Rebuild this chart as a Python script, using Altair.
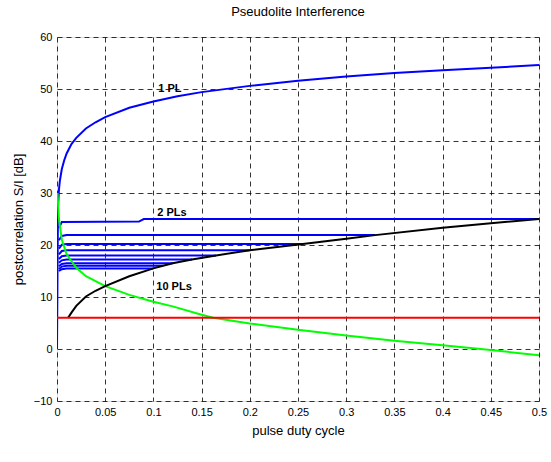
import altair as alt
import pandas as pd

# ---- data ----
# 1 PL curve (blue)
pl1_x = [0.0, 0.001, 0.002, 0.003, 0.005, 0.0075, 0.01, 0.015, 0.02, 0.03, 0.04, 0.05,
         0.075, 0.1, 0.125, 0.15, 0.2, 0.25, 0.3, 0.35, 0.4, 0.45, 0.5]
pl1_y = [0.0, 27.0, 30.6, 32.4, 34.6, 36.3, 37.6, 39.4, 40.6, 42.4, 43.6, 44.6,
         46.4, 47.6, 48.6, 49.4, 50.6, 51.6, 52.4, 53.1, 53.6, 54.1, 54.6]

# N PLs horizontal levels (blue), N = 2..10, and x where each line ends
npl_names = ["2 PLs", "3 PLs", "4 PLs", "5 PLs", "6 PLs", "7 PLs", "8 PLs", "9 PLs", "10 PLs"]
npl_level = [25.0, 21.9, 20.2, 19.0, 18.0, 17.2, 16.5, 16.0, 15.5]
npl_start = [23.3, 20.9, 19.3, 18.2, 17.3, 16.6, 15.9, 15.4, 15.0]
npl_end_x = [0.5, 0.33, 0.255, 0.2, 0.165, 0.14, 0.12, 0.11, 0.1]

# envelope curve (black)
env_x = [0.0115, 0.015, 0.02, 0.03, 0.04, 0.05, 0.075, 0.1, 0.11, 0.12, 0.14, 0.165,
         0.2, 0.255, 0.3, 0.33, 0.4, 0.45, 0.5]
env_y = [6.0, 7.0, 8.3, 10.1, 11.2, 12.1, 14.0, 15.5, 16.0, 16.5, 17.2, 18.0,
         19.0, 20.2, 21.2, 21.9, 23.3, 24.2, 25.0]

# green curve
grn_x = [0.0005, 0.002, 0.005, 0.01, 0.02, 0.03, 0.05, 0.075, 0.1, 0.12, 0.15, 0.162,
         0.2, 0.25, 0.3, 0.35, 0.4, 0.45, 0.5]
grn_y = [30.0, 25.0, 21.0, 18.2, 15.6, 14.0, 12.1, 10.4, 9.1, 8.2, 6.6, 6.0,
         4.9, 3.7, 2.6, 1.6, 0.7, -0.2, -1.2]

# red threshold
red_x = [0.0, 0.5]
red_y = [6.0, 6.0]

# annotations
lbl_text = ["1 PL", "2 PLs", "10 PLs"]
lbl_x = [0.105, 0.104, 0.103]
lbl_y = [50.0, 26.2, 11.9]

x_ticks = [0, 0.05, 0.1, 0.15, 0.2, 0.25, 0.3, 0.35, 0.4, 0.45, 0.5]
y_ticks = [-10, 0, 10, 20, 30, 40, 50, 60]

# ---- tables ----
pl1 = pd.DataFrame({"x": pl1_x, "y": pl1_y, "s": "1 PL"})
rows = []
for name, lev, st, ex in zip(npl_names, npl_level, npl_start, npl_end_x):
    xs = [0.002, 0.005, 0.01, ex]
    ys = [st, lev - 0.15, lev, lev]
    if name == "2 PLs":
        xs = [0.002, 0.005, 0.085, 0.09, ex]
        ys = [st, lev - 0.6, lev - 0.5, lev, lev]
    for a, b in zip(xs, ys):
        rows.append({"x": a, "y": b, "s": name})
npl = pd.DataFrame(rows)
blue = pd.concat([pl1, npl], ignore_index=True)
env = pd.DataFrame({"x": env_x, "y": env_y})
grn = pd.DataFrame({"x": grn_x, "y": grn_y})
red = pd.DataFrame({"x": red_x, "y": red_y})
lbl = pd.DataFrame({"x": lbl_x, "y": lbl_y, "t": lbl_text})

FONT = "Liberation Sans"
W, H = 482, 364

xenc = alt.X("x:Q", scale=alt.Scale(domain=[0, 0.5], nice=False, zero=False),
             axis=alt.Axis(values=x_ticks, format="~g", title="pulse duty cycle",
                           grid=True, gridDash=[5, 4], gridColor="#000000", gridWidth=0.8,
                           ticks=False, domain=False, labelPadding=5, titlePadding=7,
                           labelFontSize=11, titleFontSize=13, labelFont=FONT, titleFont=FONT,
                           labelColor="#000", titleColor="#000", titleFontWeight="normal",
                           labelFlush=False))
yenc = alt.Y("y:Q", scale=alt.Scale(domain=[-10, 60], nice=False, zero=False),
             axis=alt.Axis(values=y_ticks, title="postcorrelation S/I [dB]",
                           grid=True, gridDash=[5, 4], gridColor="#000000", gridWidth=0.8,
                           ticks=False, domain=False, labelPadding=5, titlePadding=8,
                           labelFontSize=11, titleFontSize=13, labelFont=FONT, titleFont=FONT,
                           labelColor="#000", titleColor="#000", titleFontWeight="normal",
                           labelFlush=False))

base_blue = alt.Chart(blue).mark_line(color="#0000FF", strokeWidth=2, clip=True).encode(
    x=xenc, y=yenc, detail="s:N")
l_grn = alt.Chart(grn).mark_line(color="#00FF00", strokeWidth=2, clip=True).encode(x="x:Q", y="y:Q")
l_env = alt.Chart(env).mark_line(color="#000000", strokeWidth=2, clip=True).encode(x="x:Q", y="y:Q")
l_red = alt.Chart(red).mark_line(color="#FF0000", strokeWidth=2, clip=True).encode(x="x:Q", y="y:Q")
txt = alt.Chart(lbl).mark_text(align="left", baseline="middle", font=FONT, fontSize=11,
                               fontWeight="bold", color="#000").encode(x="x:Q", y="y:Q", text="t:N")

chart = alt.layer(base_blue, l_grn, l_env, l_red, txt).properties(
    width=W, height=H,
    title=alt.Title("Pseudolite Interference", font=FONT, fontSize=13, fontWeight="normal",
                    color="#000", offset=12),
    autosize=alt.AutoSizeParams(type="none"),
    padding={"left": 57, "top": 37, "right": 12, "bottom": 61},
).configure_view(stroke="#000000", strokeWidth=1).configure(background="white")

chart.save("out.html", embed_options={"renderer": "svg", "actions": False})
